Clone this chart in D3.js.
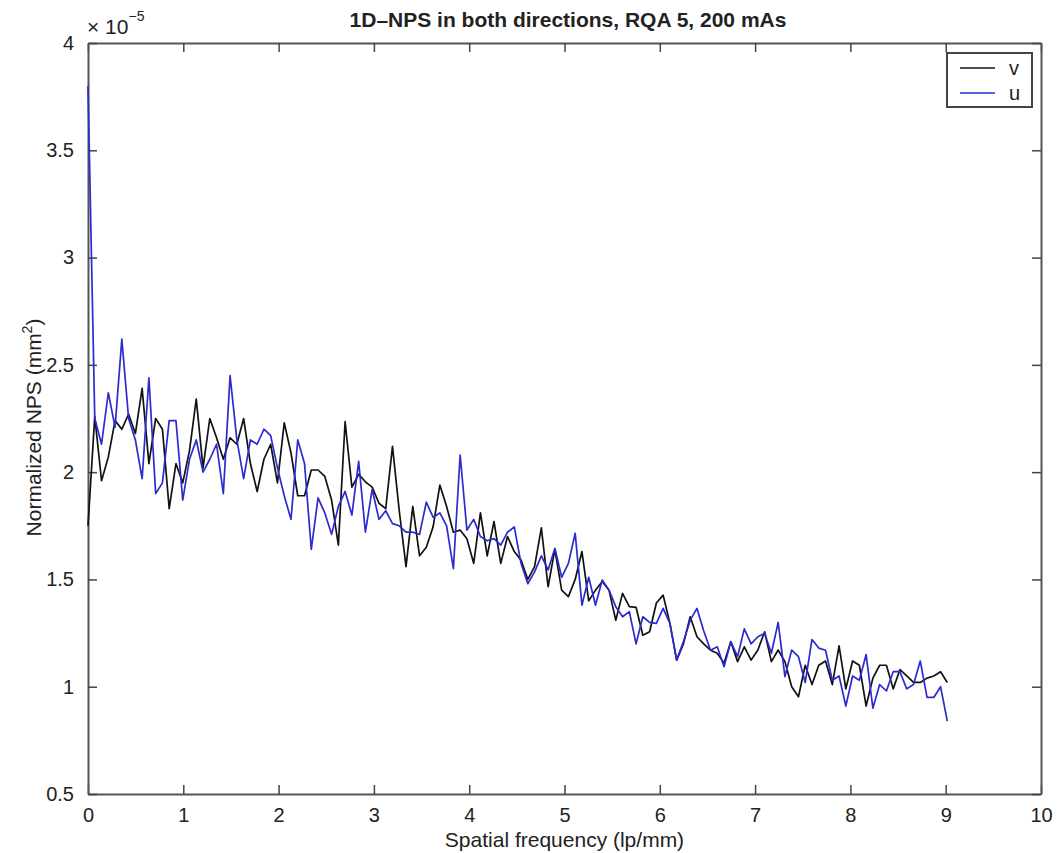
<!DOCTYPE html>
<html>
<head>
<meta charset="utf-8">
<script src="https://cdn.jsdelivr.net/npm/d3@7"></script>
<style>
  body { margin: 0; background: #fff; }
  text { font-family: "Liberation Sans", Arial, sans-serif; fill: #222; }
</style>
</head>
<body>
<div id="chart"></div>
<script>

// NPS values, in units of 1e-5 mm^2, one per frequency bin
var vValues = [1.75, 2.26, 1.96, 2.07, 2.24, 2.20, 2.27, 2.18, 2.39, 2.04,
	2.25, 2.20, 1.83, 2.04, 1.95, 2.10, 2.34, 2.02, 2.25, 2.16,
	2.06, 2.16, 2.13, 2.25, 2.04, 1.91, 2.06, 2.13, 1.95, 2.23,
	2.09, 1.89, 1.89, 2.01, 2.01, 1.98, 1.87, 1.66, 2.235, 1.93,
	1.99, 1.955, 1.93, 1.855, 1.83, 2.12, 1.82, 1.56, 1.84, 1.61,
	1.65, 1.745, 1.94, 1.84, 1.72, 1.73, 1.69, 1.575, 1.81, 1.61,
	1.77, 1.575, 1.70, 1.63, 1.59, 1.50, 1.56, 1.74, 1.466, 1.64,
	1.45, 1.42, 1.50, 1.63, 1.40, 1.45, 1.49, 1.45, 1.31, 1.435,
	1.373, 1.37, 1.24, 1.256, 1.39, 1.427, 1.295, 1.124, 1.20, 1.326,
	1.233, 1.20, 1.17, 1.156, 1.11, 1.21, 1.117, 1.186, 1.124, 1.171,
	1.256, 1.117, 1.171, 1.117, 1.00, 0.953, 1.10, 1.01, 1.10, 1.12,
	1.01, 1.19, 0.99, 1.12, 1.10, 0.91, 1.04, 1.10, 1.10, 0.99,
	1.08, 1.05, 1.02, 1.02, 1.04, 1.05, 1.07, 1.02];

var uValues = [3.80, 2.25, 2.13, 2.37, 2.21, 2.62, 2.25, 2.15, 1.97, 2.44,
	1.90, 1.95, 2.24, 2.24, 1.87, 2.06, 2.15, 2.00, 2.06, 2.13,
	1.90, 2.45, 2.15, 1.97, 2.15, 2.13, 2.20, 2.17, 2.02, 1.89,
	1.78, 2.15, 2.04, 1.64, 1.88, 1.81, 1.71, 1.84, 1.91, 1.80,
	2.05, 1.72, 1.92, 1.78, 1.82, 1.76, 1.75, 1.72, 1.72, 1.71,
	1.86, 1.79, 1.81, 1.75, 1.55, 2.08, 1.73, 1.78, 1.70, 1.68,
	1.69, 1.66, 1.72, 1.745, 1.575, 1.48, 1.535, 1.61, 1.544, 1.645,
	1.51, 1.575, 1.715, 1.38, 1.51, 1.38, 1.497, 1.45, 1.373, 1.326,
	1.35, 1.20, 1.326, 1.30, 1.295, 1.365, 1.295, 1.124, 1.21, 1.31,
	1.365, 1.26, 1.17, 1.186, 1.093, 1.21, 1.14, 1.27, 1.20, 1.233,
	1.249, 1.156, 1.30, 1.047, 1.171, 1.14, 1.02, 1.22, 1.18, 1.17,
	1.03, 1.05, 0.91, 1.05, 1.03, 1.15, 0.90, 1.01, 0.98, 1.07,
	1.07, 0.99, 1.01, 1.12, 0.95, 0.95, 1.00, 0.84];

// frequency bin width (lp/mm)
var binWidth = 0.071;
var freqs = d3.range(vValues.length).map(i => i * binWidth);

var xTicks = [0, 1, 2, 3, 4, 5, 6, 7, 8, 9, 10];
var yTicks = [0.5, 1, 1.5, 2, 2.5, 3, 3.5, 4];

var seriesNames = ["v", "u"];
var seriesColors = ["#111111", "#2b2bd0"];

var svgWidth = 1057;
var svgHeight = 853;

var margin = {
	top: 43,
	right: 16,
	bottom: 59,
	left: 88
};

var width = svgWidth - margin.left - margin.right;
var height = svgHeight - margin.top - margin.bottom;

var svg = d3.select("#chart")
	.append("svg")
	.attr("width", svgWidth)
	.attr("height", svgHeight);

var chartGroup = svg.append("g")
	.attr("transform", `translate(${margin.left}, ${margin.top})`);

var xScale = d3.scaleLinear().domain([0, 10]).range([0, width]);
var yScale = d3.scaleLinear().domain([0.5, 4]).range([height, 0]);

// axes: ticks pointing inward on all four sides, like a boxed plot
function styleAxis(g) {
	g.selectAll("path").attr("stroke", "#555").attr("stroke-width", 2);
	g.selectAll("line").attr("stroke", "#444").attr("stroke-width", 1.5);
	g.selectAll("text").style("font-size", "20px").attr("fill", "#222");
}

chartGroup.append("g")
	.attr("transform", `translate(0, ${height})`)
	.call(d3.axisBottom(xScale).tickValues(xTicks).tickSizeInner(-9).tickSizeOuter(0).tickPadding(14).tickFormat(d3.format("d")))
	.call(styleAxis);

chartGroup.append("g")
	.call(d3.axisTop(xScale).tickValues(xTicks).tickSizeInner(-9).tickSizeOuter(0).tickFormat(""))
	.call(styleAxis);

chartGroup.append("g")
	.call(d3.axisLeft(yScale).tickValues(yTicks).tickSizeInner(-9).tickSizeOuter(0).tickPadding(14).tickFormat(d => d))
	.call(styleAxis);

chartGroup.append("g")
	.attr("transform", `translate(${width}, 0)`)
	.call(d3.axisRight(yScale).tickValues(yTicks).tickSizeInner(-9).tickSizeOuter(0).tickFormat(""))
	.call(styleAxis);

// the two NPS curves
var line = d3.line()
	.x((d, i) => xScale(freqs[i]))
	.y(d => yScale(d));

[vValues, uValues].forEach(function(values, k) {
	chartGroup.append("path")
		.datum(values)
		.attr("fill", "none")
		.attr("stroke", seriesColors[k])
		.attr("stroke-width", 1.7)
		.attr("stroke-linejoin", "round")
		.attr("d", line);
});

// exponent note above the y axis
var expText = svg.append("text")
	.attr("x", margin.left - 1)
	.attr("y", 34)
	.style("font-size", "21px");
expText.append("tspan").text("\u00d7 10");
expText.append("tspan")
	.attr("dy", -13)
	.style("font-size", "14px")
	.text("\u22125");

// title
svg.append("text")
	.attr("x", 568)
	.attr("y", 27)
	.attr("text-anchor", "middle")
	.style("font-size", "21px")
	.style("font-weight", "bold")
	.text("1D\u2013NPS in both directions, RQA 5, 200 mAs");

// axis labels
svg.append("text")
	.attr("x", margin.left + width / 2)
	.attr("y", 847)
	.attr("text-anchor", "middle")
	.style("font-size", "21px")
	.text("Spatial frequency (lp/mm)");

var yLabel = svg.append("text")
	.attr("transform", `translate(41, ${margin.top + height / 2 + 9}) rotate(-90)`)
	.attr("text-anchor", "middle")
	.style("font-size", "21px");
yLabel.append("tspan").text("Normalized NPS (mm");
yLabel.append("tspan").attr("dy", -9).style("font-size", "14px").text("2");
yLabel.append("tspan").attr("dy", 9).text(")");

// legend
var legend = chartGroup.append("g")
	.attr("transform", `translate(${width - 94}, 10)`);

legend.append("rect")
	.attr("width", 85)
	.attr("height", 54)
	.attr("fill", "#fff")
	.attr("stroke", "#444")
	.attr("stroke-width", 2);

seriesNames.forEach(function(name, k) {
	legend.append("line")
		.attr("x1", 13)
		.attr("x2", 48)
		.attr("y1", 15 + k * 25)
		.attr("y2", 15 + k * 25)
		.attr("stroke", seriesColors[k])
		.attr("stroke-width", 1.7);
	legend.append("text")
		.attr("x", 62)
		.attr("y", 22 + k * 25)
		.style("font-size", "20px")
		.text(name);
});

</script>
</body>
</html>
